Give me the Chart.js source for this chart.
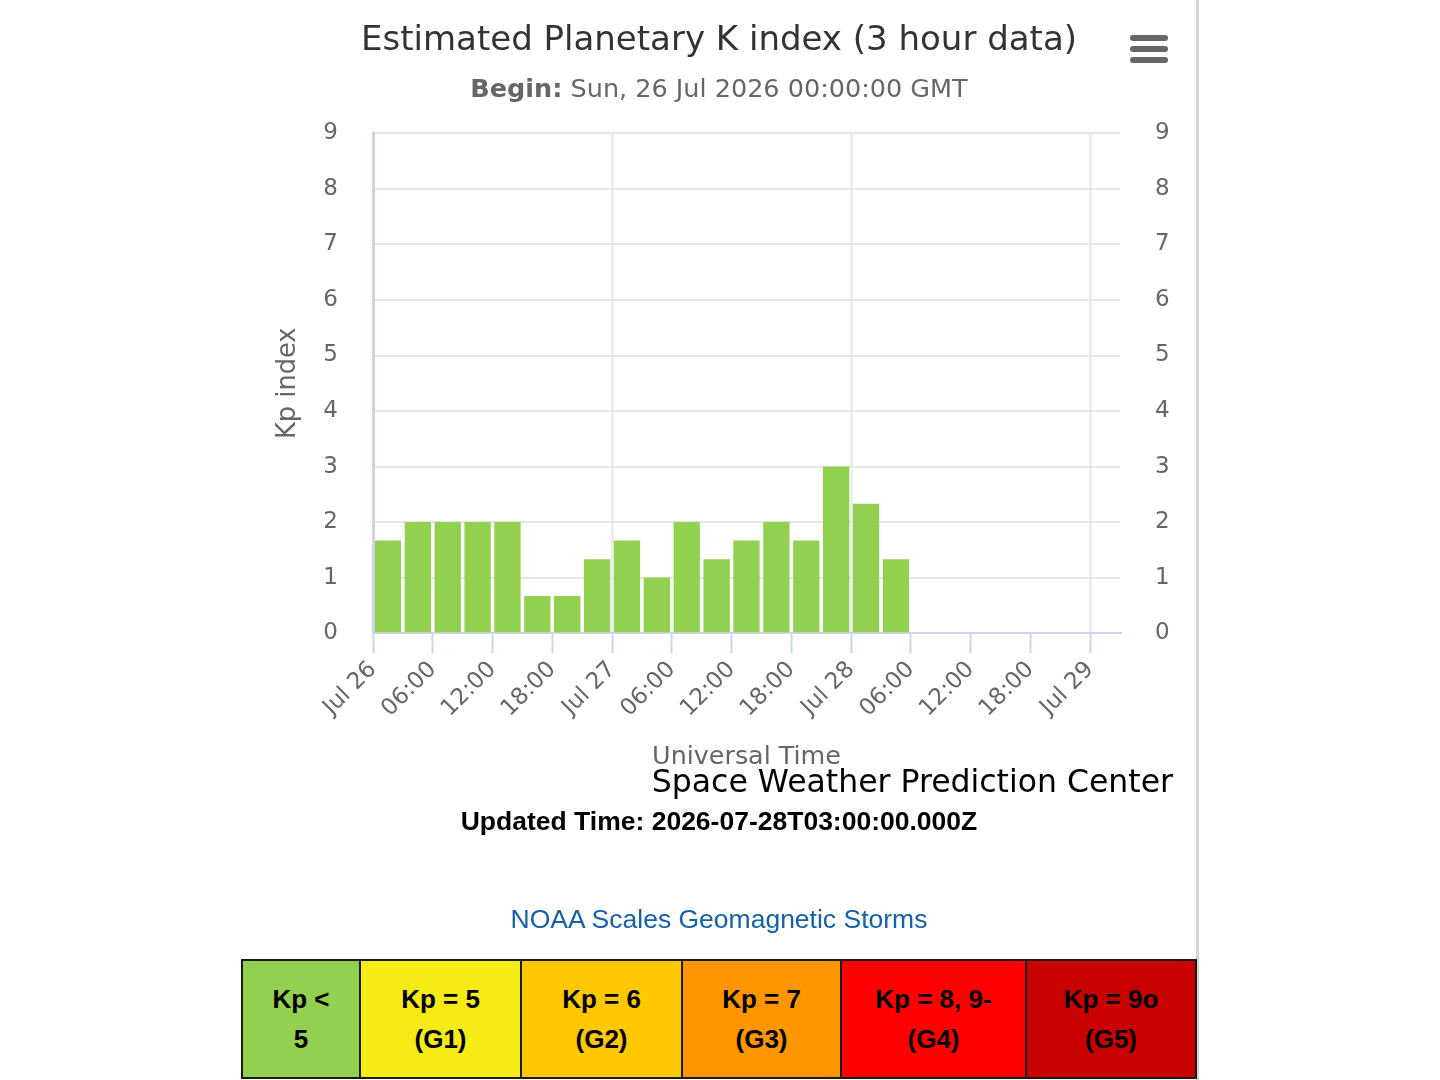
<!DOCTYPE html>
<html>
<head>
<meta charset="utf-8">
<script src="https://cdn.jsdelivr.net/npm/chart.js@4/dist/chart.umd.min.js"></script>
<style>
  body { margin: 0; background: #fff; width: 1440px; height: 1080px; overflow: hidden; position: relative; }
  #kpChart { position: absolute; left: 241px; top: 0; }
  .pageEdge { position: absolute; left: 1196px; top: 0; width: 3px; height: 1080px; background: #d6d6d6; }
  .menu { position: absolute; left: 1130px; width: 38px; height: 6px; border-radius: 3px; background: #666; }
  #credits { position: absolute; right: 267px; top: 762px; font: 31.5px "DejaVu Sans", sans-serif; color: #000; line-height: 38px; }
  #updated { position: absolute; left: 241px; width: 956px; top: 806px; text-align: center; font: bold 26.5px "Liberation Sans", Arial, sans-serif; color: #000; line-height: 30px; }
  #noaa { position: absolute; left: 241px; width: 956px; top: 903px; text-align: center; font: 26.5px "Liberation Sans", Arial, sans-serif; color: #1560a8; line-height: 32px; }
  table { position: absolute; left: 241px; top: 959px; width: 954px; height: 120px; border-collapse: collapse; table-layout: fixed; }
  td { border: 2px solid #1a1a1a; text-align: center; font: bold 26px "Liberation Sans", Arial, sans-serif; line-height: 40px; color: #000; padding: 0; }
</style>
</head>
<body>
<canvas id="kpChart" width="956" height="777"></canvas>
<div class="pageEdge"></div>
<div class="menu" style="top:35px"></div>
<div class="menu" style="top:46px"></div>
<div class="menu" style="top:57px"></div>
<div id="credits">Space Weather Prediction Center</div>
<div id="updated">Updated Time: 2026-07-28T03:00:00.000Z</div>
<div id="noaa">NOAA Scales Geomagnetic Storms</div>
<table>
  <colgroup>
    <col style="width:118px"><col style="width:161px"><col style="width:161px">
    <col style="width:159px"><col style="width:185px"><col style="width:170px">
  </colgroup>
  <tr>
    <td style="background:#92d050">Kp &lt;<br>5</td>
    <td style="background:#f6eb14">Kp = 5<br>(G1)</td>
    <td style="background:#ffc800">Kp = 6<br>(G2)</td>
    <td style="background:#ff9600">Kp = 7<br>(G3)</td>
    <td style="background:#ff0000">Kp = 8, 9-<br>(G4)</td>
    <td style="background:#c80000">Kp = 9o<br>(G5)</td>
  </tr>
</table>
<script>
// 3-hour intervals, hours after Sun 26 Jul 2026 00:00 UTC
var kpStartHours = [0, 3, 6, 9, 12, 15, 18, 21, 24, 27, 30, 33, 36, 39, 42, 45, 48, 51];
var kpValues = [1.67, 2, 2, 2, 2, 0.67, 0.67, 1.33, 1.67, 1, 2, 1.33, 1.67, 2, 1.67, 3, 2.33, 1.33];
var dayLabels = ["Jul 26", "Jul 27", "Jul 28", "Jul 29"];
var yTicks = [0, 1, 2, 3, 4, 5, 6, 7, 8, 9];

var chartTitle = "Estimated Planetary K index (3 hour data)";
var beginLabel = "Begin:";
var beginValue = " Sun, 26 Jul 2026 00:00:00 GMT";

var points = [];
for (let i = 0; i < kpValues.length; i++) {
    points.push({x: kpStartHours[i] + 1.5, y: kpValues[i]});
}

function timeLabel(v) {
    if (v % 24 == 0) {
        return dayLabels[v / 24];
    }
    var h = v % 24;
    return (h < 10 ? "0" + h : "" + h) + ":00";
}

// draws "Begin:" in bold and the date in normal weight inside the subtitle box
const boldSubtitle = {
    id: "boldSubtitle",
    afterDraw(chart) {
        var box = chart.boxes.find(b => b.options && b.options.text === beginLabel + beginValue);
        if (!box) return;
        var ctx = chart.ctx;
        var y = box.top + 13;
        ctx.save();
        ctx.textBaseline = "middle";
        ctx.fillStyle = "#666666";
        ctx.font = "bold 25.5px 'DejaVu Sans'";
        var w1 = ctx.measureText(beginLabel).width;
        ctx.font = "25.5px 'DejaVu Sans'";
        var w2 = ctx.measureText(beginValue).width;
        var x = (box.left + box.right) / 2 - (w1 + w2) / 2;
        ctx.font = "bold 25.5px 'DejaVu Sans'";
        ctx.fillText(beginLabel, x, y);
        ctx.font = "25.5px 'DejaVu Sans'";
        ctx.fillText(beginValue, x + w1, y);
        ctx.restore();
    }
};

const config = {
    type: "bar",
    data: {
        datasets: [{
            data: points,
            backgroundColor: "#92d050",
            borderWidth: 0,
            barPercentage: 0.88,
            categoryPercentage: 1,
            yAxisID: "y"
        }]
    },
    options: {
        responsive: false,
        animation: false,
        layout: {
            padding: {left: 27, right: 27, top: 0, bottom: 0}
        },
        plugins: {
            legend: {display: false},
            tooltip: {enabled: false},
            title: {
                display: true,
                text: chartTitle,
                color: "#333333",
                font: {family: "DejaVu Sans", size: 34, weight: "normal"},
                padding: {top: 21, bottom: 16}
            },
            subtitle: {
                display: true,
                text: beginLabel + beginValue,
                color: "rgba(0,0,0,0)",
                font: {family: "DejaVu Sans", size: 25.5},
                padding: {top: 0, bottom: 25}
            }
        },
        scales: {
            x: {
                type: "linear",
                min: 0,
                max: 75,
                offset: false,
                grid: {
                    offset: false,
                    color: ctx => (ctx.tick && ctx.tick.value % 24 == 0) ? "#eeeeee" : "rgba(0,0,0,0)",
                    lineWidth: 3,
                    tickColor: "#ccd6eb",
                    tickWidth: 2,
                    tickLength: 20
                },
                border: {color: "#ccd6eb", width: 2},
                ticks: {
                    stepSize: 6,
                    includeBounds: false,
                    autoSkip: false,
                    minRotation: 45,
                    maxRotation: 45,
                    padding: 3,
                    color: "#666666",
                    font: {family: "DejaVu Sans", size: 23},
                    callback: v => timeLabel(v)
                },
                title: {
                    display: true,
                    text: "Universal Time",
                    color: "#666666",
                    font: {family: "DejaVu Sans", size: 25.4},
                    padding: {top: 17, bottom: 4}
                }
            },
            y: {
                position: "left",
                min: 0,
                max: 9,
                afterBuildTicks: axis => { axis.ticks = yTicks.map(v => ({value: v})); },
                afterFit: axis => { axis.width = 105; },
                grid: {color: "#e6e6e6", lineWidth: 2, drawTicks: false},
                border: {color: "#ccd6eb", width: 3},
                ticks: {
                    padding: 35,
                    color: "#666666",
                    font: {family: "DejaVu Sans", size: 23}
                },
                title: {
                    display: true,
                    text: "Kp index",
                    color: "#666666",
                    font: {family: "DejaVu Sans", size: 25.7},
                    padding: {top: 5, bottom: 4}
                }
            },
            y2: {
                position: "right",
                min: 0,
                max: 9,
                afterBuildTicks: axis => { axis.ticks = yTicks.map(v => ({value: v})); },
                afterFit: axis => { axis.width = 50; },
                grid: {drawOnChartArea: false, drawTicks: false},
                border: {display: false},
                ticks: {
                    padding: 35,
                    color: "#666666",
                    font: {family: "DejaVu Sans", size: 23}
                }
            }
        }
    },
    plugins: [boldSubtitle]
};

var kpChart = new Chart(document.getElementById("kpChart"), config);
</script>
</body>
</html>
